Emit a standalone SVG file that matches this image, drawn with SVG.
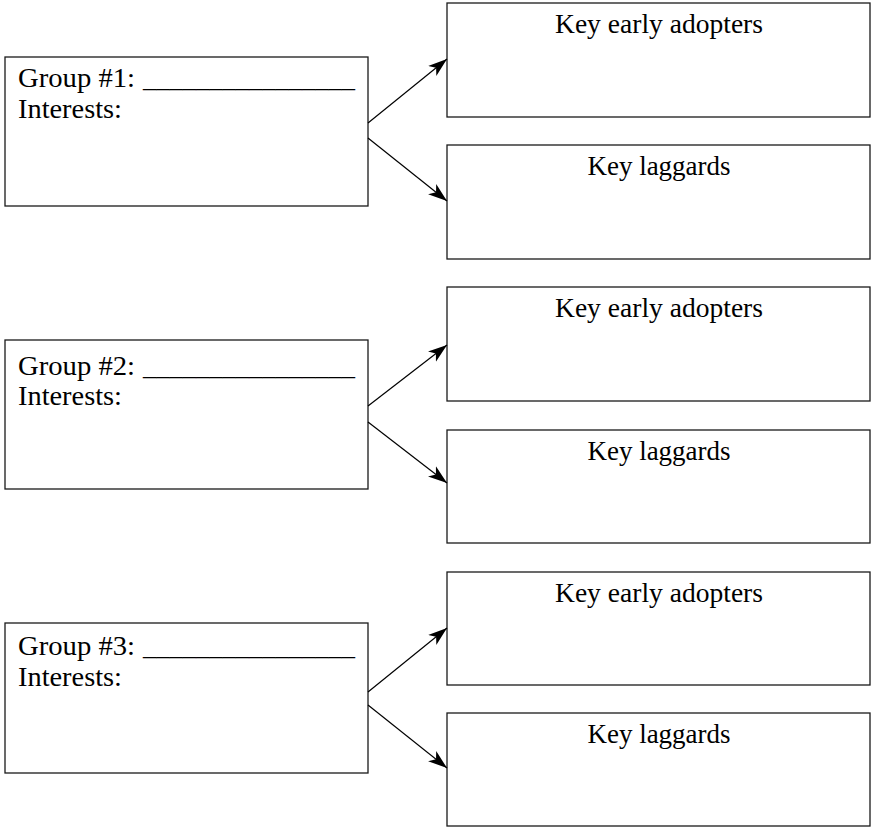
<svg xmlns="http://www.w3.org/2000/svg" width="872" height="827" viewBox="0 0 872 827">
  <style>
    .box { fill: #ffffff; stroke: #1a1a1a; stroke-width: 1.3; }
    .txt { font-family: "Liberation Serif", "Times New Roman", serif; font-size: 27px; fill: #000000; }
    .mid { text-anchor: middle; }
    .link { fill: none; stroke: #000000; stroke-width: 1.2; marker-end: url(#head); }
  </style>
  <defs>
    <marker id="head" markerUnits="userSpaceOnUse" markerWidth="20" markerHeight="14" viewBox="0 0 20 14" refX="19" refY="7" orient="auto">
      <path d="M0,0.5 L19,7 L0,13.5 L5,7 Z" fill="#000000"/>
    </marker>
  </defs>
  <rect width="872" height="827" fill="#ffffff"/>

  <!-- Group 1 -->
  <g id="group1">
    <rect class="box" x="5" y="57" width="363" height="149"/>
    <text class="txt" x="18" y="87"><tspan textLength="117" lengthAdjust="spacingAndGlyphs">Group #1:</tspan><tspan x="143" textLength="212" lengthAdjust="spacingAndGlyphs">________________</tspan></text>
    <text class="txt" x="18" y="118" textLength="104" lengthAdjust="spacingAndGlyphs">Interests:</text>
  </g>
  <g id="early1">
    <rect class="box" x="447" y="3" width="423" height="114"/>
    <text class="txt mid" x="659" y="33" textLength="208" lengthAdjust="spacingAndGlyphs">Key early adopters</text>
  </g>
  <g id="laggards1">
    <rect class="box" x="447" y="145" width="423" height="114"/>
    <text class="txt mid" x="659" y="175" textLength="143" lengthAdjust="spacingAndGlyphs">Key laggards</text>
  </g>

  <!-- Group 2 -->
  <g id="group2">
    <rect class="box" x="5" y="340" width="363" height="149"/>
    <text class="txt" x="18" y="375"><tspan textLength="117" lengthAdjust="spacingAndGlyphs">Group #2:</tspan><tspan x="143" textLength="212" lengthAdjust="spacingAndGlyphs">________________</tspan></text>
    <text class="txt" x="18" y="405" textLength="104" lengthAdjust="spacingAndGlyphs">Interests:</text>
  </g>
  <g id="early2">
    <rect class="box" x="447" y="287" width="423" height="114"/>
    <text class="txt mid" x="659" y="317" textLength="208" lengthAdjust="spacingAndGlyphs">Key early adopters</text>
  </g>
  <g id="laggards2">
    <rect class="box" x="447" y="430" width="423" height="113"/>
    <text class="txt mid" x="659" y="460" textLength="143" lengthAdjust="spacingAndGlyphs">Key laggards</text>
  </g>

  <!-- Group 3 -->
  <g id="group3">
    <rect class="box" x="5" y="623" width="363" height="150"/>
    <text class="txt" x="18" y="655"><tspan textLength="117" lengthAdjust="spacingAndGlyphs">Group #3:</tspan><tspan x="143" textLength="212" lengthAdjust="spacingAndGlyphs">________________</tspan></text>
    <text class="txt" x="18" y="686" textLength="104" lengthAdjust="spacingAndGlyphs">Interests:</text>
  </g>
  <g id="early3">
    <rect class="box" x="447" y="572" width="423" height="113"/>
    <text class="txt mid" x="659" y="602" textLength="208" lengthAdjust="spacingAndGlyphs">Key early adopters</text>
  </g>
  <g id="laggards3">
    <rect class="box" x="447" y="713" width="423" height="113"/>
    <text class="txt mid" x="659" y="743" textLength="143" lengthAdjust="spacingAndGlyphs">Key laggards</text>
  </g>

  <!-- Connectors -->
  <g id="connectors">
    <line class="link" x1="368" y1="123" x2="447" y2="59"/>
    <line class="link" x1="368" y1="138" x2="447" y2="201"/>
    <line class="link" x1="368" y1="406" x2="447" y2="345"/>
    <line class="link" x1="368" y1="422" x2="447" y2="483"/>
    <line class="link" x1="368" y1="692" x2="447" y2="628"/>
    <line class="link" x1="368" y1="705" x2="447" y2="768"/>
  </g>
</svg>
